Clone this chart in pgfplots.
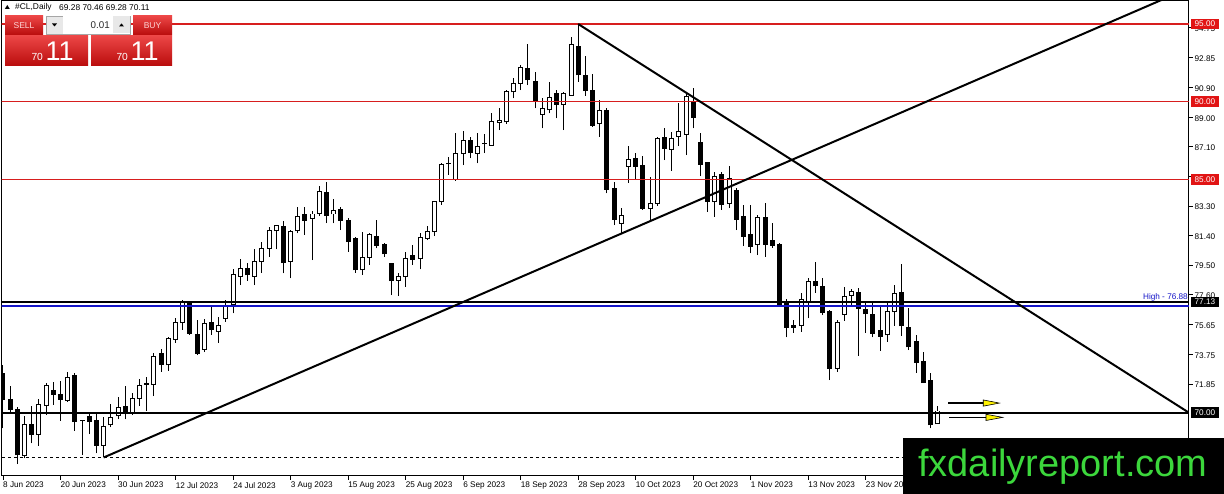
\documentclass[border=0pt]{standalone}
\usepackage{pgfplots}
\pgfplotsset{compat=1.18}
\usepackage{pgfplotstable}
\usetikzlibrary{calc}
\usepackage{fontspec}
\setmainfont{Liberation Sans}
\pgfdeclarelayer{background}
\pgfsetlayers{background,main}
\definecolor{lvlred}{RGB}{215,30,30}
\definecolor{boxred}{RGB}{225,20,20}
\definecolor{hiblue}{RGB}{20,20,200}
\definecolor{wmgreen}{RGB}{60,215,60}
\definecolor{btnA}{RGB}{236,70,70}
\definecolor{btnB}{RGB}{185,12,12}
\definecolor{btngray}{RGB}{232,232,232}
\newcommand\lbl{\fontsize{8.2}{9.8}\selectfont}

\pgfplotstableread{
x o h l c
0 72.53 73.10 69.00 70.82
1 70.86 71.72 70.06 70.22
2 70.22 70.35 66.70 67.28
3 67.22 69.79 67.07 69.21
4 69.25 70.43 68.03 68.61
5 68.61 70.86 67.86 70.50
6 70.45 71.93 69.85 71.78
7 71.40 71.99 70.50 71.18
8 71.18 72.04 69.47 70.86
9 70.77 72.64 70.70 72.28
10 72.42 72.53 68.84 69.42
11 69.49 69.53 67.28 69.47
12 69.74 70.06 68.63 69.42
13 69.47 70.06 67.39 67.92
14 67.92 69.74 67.12 69.10
15 69.21 70.56 69.06 69.70
16 69.79 70.99 69.57 70.35
17 70.39 71.72 69.57 70.00
18 70.00 71.29 69.85 70.93
19 70.93 72.15 70.43 71.78
20 71.83 72.28 70.13 71.87
21 71.83 73.82 71.07 73.60
22 73.82 74.08 72.64 73.13
23 73.07 74.89 72.70 74.78
24 74.72 76.07 74.50 75.79
25 75.79 77.25 75.32 77.14
26 77.04 77.20 75.00 75.11
27 75.00 75.96 73.70 73.82
28 74.08 76.00 73.90 75.75
29 75.79 76.82 75.00 75.32
30 75.21 76.17 74.50 75.64
31 76.07 77.25 75.85 76.82
32 76.93 79.22 76.39 78.86
33 78.79 79.86 78.21 79.29
34 79.29 79.60 78.49 78.86
35 78.79 80.50 78.21 79.71
36 79.71 81.00 79.00 80.57
37 80.57 81.92 80.03 81.70
38 81.70 82.10 80.50 82.07
39 81.96 82.35 78.96 79.65
40 79.71 81.75 78.64 81.64
41 81.70 83.21 81.54 82.60
42 82.76 83.21 81.43 82.39
43 82.50 82.97 79.82 82.78
44 82.82 84.58 82.65 84.21
45 84.15 84.86 82.20 82.71
46 82.78 83.72 82.18 82.99
47 83.04 83.25 81.75 82.39
48 82.39 82.50 80.35 81.00
49 81.22 81.30 79.00 79.18
50 79.18 81.64 78.86 79.99
51 79.99 81.58 79.50 81.43
52 81.36 82.39 80.57 80.78
53 80.83 80.90 80.03 80.21
54 79.61 79.65 77.57 78.49
55 78.49 78.96 77.50 78.79
56 78.75 80.35 78.10 79.92
57 80.08 80.78 79.50 79.86
58 79.93 81.54 79.22 81.28
59 81.22 82.00 81.10 81.64
60 81.64 83.60 81.36 83.57
61 83.57 86.08 83.36 85.99
62 86.00 86.46 85.29 86.02
63 85.01 87.97 84.92 86.68
64 86.68 88.14 85.93 87.49
65 87.49 87.71 86.36 86.72
66 86.68 87.97 86.03 87.15
67 87.30 87.92 86.70 87.34
68 87.21 89.27 87.20 88.71
69 88.67 89.57 88.18 88.82
70 88.71 90.75 88.60 90.68
71 90.64 91.50 90.22 91.18
72 91.18 92.36 90.75 92.21
73 92.15 93.70 91.07 91.40
74 91.33 91.93 89.57 90.04
75 89.19 90.22 88.29 89.57
76 89.47 91.29 89.25 90.28
77 90.54 90.75 88.93 89.83
78 89.83 90.64 88.18 90.50
79 90.43 94.18 90.40 93.65
80 93.58 95.00 91.29 91.72
81 91.72 92.97 90.40 90.71
82 90.75 91.78 88.39 88.50
83 88.60 90.11 87.75 89.42
84 89.42 89.57 84.11 84.37
85 84.43 84.86 82.07 82.44
86 82.18 83.14 81.54 82.71
87 85.86 87.15 84.79 86.29
88 86.36 86.68 85.00 85.86
89 85.93 86.50 83.04 83.14
90 83.14 85.18 82.28 83.47
91 83.47 87.75 83.30 87.65
92 87.71 88.29 86.25 87.00
93 86.94 88.07 85.56 87.65
94 87.75 89.90 87.15 88.11
95 87.92 90.64 86.57 90.32
96 90.00 90.86 88.29 89.00
97 87.39 87.97 85.22 85.99
98 86.08 86.10 82.93 83.57
99 83.57 85.50 82.60 85.22
100 85.35 85.50 83.04 83.42
101 83.47 85.86 83.16 85.07
102 84.28 84.43 81.75 82.44
103 82.65 83.36 80.72 81.36
104 81.43 83.36 80.25 80.72
105 80.85 82.71 80.14 82.56
106 82.56 83.50 80.03 80.85
107 81.06 82.18 80.60 80.78
108 80.85 80.90 76.86 76.99
109 77.04 77.29 74.85 75.49
110 75.64 75.96 75.14 75.49
111 75.58 77.68 75.20 77.29
112 77.07 78.64 76.07 78.42
113 78.42 79.71 77.72 78.15
114 78.10 78.64 76.28 76.43
115 76.50 76.60 72.10 72.86
116 72.86 75.96 72.64 75.79
117 76.33 78.10 75.92 77.46
118 77.57 77.93 76.93 77.78
119 77.72 78.00 73.65 76.71
120 76.65 77.04 75.14 76.35
121 76.33 77.04 74.85 75.11
122 75.27 76.82 73.99 74.93
123 75.00 77.04 74.57 76.50
124 76.50 78.21 75.58 77.68
125 77.72 79.56 74.93 75.58
126 75.49 76.71 74.03 74.24
127 74.57 75.00 72.57 73.22
128 73.28 73.92 71.90 71.93
129 72.06 72.57 69.00 69.21
130 69.28 70.46 69.28 70.11
}\candles

\begin{document}
\begin{tikzpicture}[x=1pt,y=1pt]
\begin{axis}[
  at={(0,0)}, anchor=south west,
  width=1187.3pt, height=475pt, scale only axis,
  xmin=-0.18, xmax=164.95, ymin=65.93, ymax=96.48,
  clip mode=individual,
  axis line style={black, line width=1pt},
  tick align=outside, major tick length=4pt,
  tick style={black, line width=0.8pt},
  xtick pos=bottom, ytick pos=right, yticklabel pos=right,
  xtick={0,8,...,120},
  xticklabels={8 Jun 2023,20 Jun 2023,30 Jun 2023,12 Jul 2023,24 Jul 2023,3 Aug 2023,15 Aug 2023,25 Aug 2023,6 Sep 2023,18 Sep 2023,28 Sep 2023,10 Oct 2023,20 Oct 2023,1 Nov 2023,13 Nov 2023,23 Nov 2023},
  x tick label style={anchor=north west, inner sep=0pt, font=\lbl, yshift=-2pt},
  ytick={94.75,92.85,90.90,89.00,87.10,85.20,83.30,81.40,79.50,77.60,75.65,73.75,71.85},
  y tick label style={anchor=west, inner sep=0pt, font=\lbl, yshift=-1pt, xshift=1.5pt,
    /pgf/number format/.cd, fixed, fixed zerofill, precision=2, assume math mode=true},
]
% wicks
\addplot[draw=none, mark=none, forget plot,
  error bars/.cd, y dir=plus, y explicit, error mark=none,
  error bar style={draw=black, solid, line width=1pt}]
  table[x=x, y=l, y error plus expr={\thisrow{h}-\thisrow{l}}] {\candles};
% bodies (outline / black)
\addplot[draw=none, mark=none, forget plot,
  error bars/.cd, y dir=plus, y explicit, error mark=none,
  error bar style={draw=black, solid, line width=5pt}]
  table[x=x, y expr={min(\thisrow{o},\thisrow{c})-0.032},
        y error plus expr={abs(\thisrow{c}-\thisrow{o})+0.064}] {\candles};
% white inner of up candles
\addplot[draw=none, mark=none, forget plot,
  error bars/.cd, y dir=plus, y explicit, error mark=none,
  error bar style={draw=white, solid, line width=3pt}]
  table[x=x, y expr={(\thisrow{c}>\thisrow{o}+0.1) ? (\thisrow{o}+0.032) : 50},
        y error plus expr={max(\thisrow{c}-\thisrow{o}-0.064,0.01)}] {\candles};

% horizontal levels
\addplot[lvlred, line width=1.4pt] coordinates {(-1,95) (170,95)};
\addplot[lvlred, line width=1.4pt] coordinates {(-1,90) (170,90)};
\addplot[lvlred, line width=1.4pt] coordinates {(-1,85) (170,85)};
\addplot[black, line width=1.6pt] coordinates {(-1,77.13) (170,77.13)};
\addplot[hiblue, line width=1.6pt] coordinates {(-1,76.88) (170,76.88)};
\addplot[black, line width=2pt] coordinates {(-1,70) (170,70)};
\addplot[black, line width=0.8pt, dash pattern=on 3pt off 3pt] coordinates {(-1,67.15) (170,67.15)};
% trend lines
\addplot[black, line width=2pt] coordinates {(14,67.12) (170,98.32)};
\addplot[black, line width=2pt] coordinates {(80,95.00) (164.95,70.00)};
% arrows
\addplot[black, line width=1.6pt] coordinates {(131.47,70.62) (136.5,70.62)};
\addplot[fill=yellow, draw=black, line width=0.6pt] coordinates {(136.34,70.82) (138.57,70.62) (136.34,70.42)} -- cycle;
\addplot[black, line width=1.6pt] coordinates {(131.61,69.70) (136.9,69.70)};
\addplot[fill=yellow, draw=black, line width=0.6pt] coordinates {(136.72,69.90) (139.04,69.70) (136.72,69.50)} -- cycle;

\coordinate (BL) at (rel axis cs:0,0);
\coordinate (r95) at (axis cs:164.95,95);
\coordinate (r90) at (axis cs:164.95,90);
\coordinate (r85) at (axis cs:164.95,85);
\coordinate (r7713) at (axis cs:164.95,77.13);
\coordinate (r7688) at (axis cs:164.95,76.88);
\coordinate (r70) at (axis cs:164.95,70);
\end{axis}

% price boxes
\tikzset{pbox/.style={inner sep=0pt, minimum width=28.5pt, minimum height=10.5pt, anchor=west, font=\lbl, text=white}}
\node[pbox, fill=boxred] at ([xshift=1.5pt]r95) {95.00};
\node[pbox, fill=boxred] at ([xshift=1.5pt]r90) {90.00};
\node[pbox, fill=boxred] at ([xshift=1.5pt]r85) {85.00};
\node[pbox, fill=black] at ([xshift=1.5pt]r7713) {77.13};
\node[pbox, fill=black] at ([xshift=1.5pt]r70) {70.00};
\node[anchor=base east, inner sep=0pt, text=hiblue, font=\lbl] at ([xshift=-1pt, yshift=6.5pt]r7688) {High - 76.88};

\begin{scope}[shift={($(BL)+(-1.7,-18)$)}]
\begin{pgfonlayer}{background}
\fill[white] (0,0) rectangle (1224,494);
\end{pgfonlayer}
% header
\fill[black] (4.8,485) -- (9.8,485) -- (7.3,489) -- cycle;
\node[anchor=west, inner sep=0pt, font=\fontsize{8.4}{10}\selectfont] at (15,486.7) {\#CL,Daily};
\node[anchor=west, inner sep=0pt, font=\fontsize{8.4}{10}\selectfont] at (59,486.7) {69.28 70.46 69.28 70.11};
% trade panel
\shade[top color=btnA, bottom color=btnB] (5,478) rectangle (43,459);
\node[text={rgb,255:red,255;green,215;blue,215}, font=\fontsize{8.5}{10}\selectfont, inner sep=0pt] at (24,468.5) {SELL};
\fill[btngray] (46,478) rectangle (63,460);
\draw[gray!70, line width=0.5pt] (46,478) rectangle (130,460);
\fill[black] (52,470.5) -- (57,470.5) -- (54.5,467.5) -- cycle;
\fill[white] (63,477.5) rectangle (113,460.5);
\node[anchor=east, inner sep=0pt, font=\fontsize{9.8}{11}\selectfont, text={rgb,255:red,40;green,40;blue,40}] at (110,469) {0.01};
\fill[btngray] (113,477.5) rectangle (129.5,460.5);
\fill[black] (119,467.5) -- (124,467.5) -- (121.5,470.5) -- cycle;
\shade[top color=btnA, bottom color=btnB] (133,478) rectangle (172,459);
\node[text={rgb,255:red,255;green,215;blue,215}, font=\fontsize{8.5}{10}\selectfont, inner sep=0pt] at (152.5,468.5) {BUY};
\shade[top color=btnA, bottom color=btnB] (5,458) rectangle (88,428);
\shade[top color=btnA, bottom color=btnB] (91,458) rectangle (172,428);
\node[anchor=base west, inner sep=0pt, text=white, font=\fontsize{10.3}{12}\selectfont] at (31.3,433.3) {70};
\node[anchor=base west, inner sep=0pt, text=white, font=\fontsize{27}{30}\selectfont] at (45.3,433) {11};
\node[anchor=base west, inner sep=0pt, text=white, font=\fontsize{10.3}{12}\selectfont] at (116.3,433.3) {70};
\node[anchor=base west, inner sep=0pt, text=white, font=\fontsize{27}{30}\selectfont] at (130.3,433) {11};
% watermark
\fill[black] (903,56) rectangle (1224,0);
\node[anchor=base west, inner sep=0pt, text=wmgreen, font=\fontsize{38}{42}\selectfont] at (918,17.3) {fxdailyreport.com};
\pgfresetboundingbox
\path[use as bounding box] (0,0) rectangle (1224,494);
\end{scope}
\end{tikzpicture}
\end{document}
